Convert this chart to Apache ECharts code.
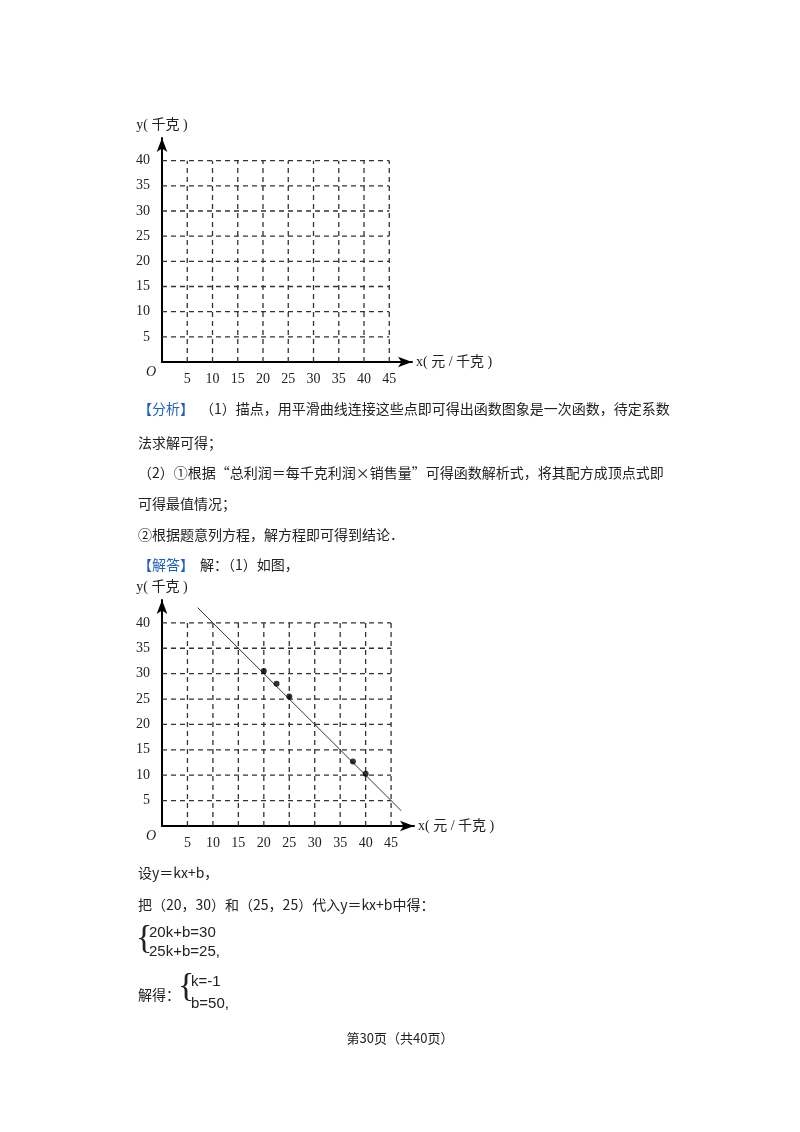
<!DOCTYPE html>
<html><head><meta charset="utf-8">
<script src="https://cdn.jsdelivr.net/npm/echarts@6/dist/echarts.min.js"></script>
<style>html,body{margin:0;background:#fff}#c{width:800px;height:1132px}</style></head>
<body><div id="c"></div>
<script>
const xTicks=[5,10,15,20,25,30,35,40,45];
const yTicks=[5,10,15,20,25,30,35,40];
const points=[[20,30.5],[22.5,28],[25,25.5],[37.5,12.7],[40,10.3]];
const fitLine=[[7,43],[47,3]];
const ff='"Liberation Serif","Noto Sans CJK SC",serif';
const chart=echarts.init(document.getElementById('c'));
function axes(i){
  return {
    x:{type:'value',gridIndex:i,min:0,max:49.5,interval:5,
      axisLine:{lineStyle:{color:'#000',width:2},symbol:['none','arrow'],symbolSize:[8,14]},
      axisTick:{show:false},splitLine:{show:false},
      axisLabel:{color:'#222',fontFamily:ff,fontSize:14,margin:10,formatter:v=>(v>0&&v<=45)?v:''},
      name:'x( 元 / 千克 )',nameGap:4,nameTextStyle:{color:'#222',fontFamily:ff,fontSize:14,padding:[22,0,0,0]}},
    y:{type:'value',gridIndex:i,min:0,max:44.5,interval:5,
      axisLine:{lineStyle:{color:'#000',width:2},symbol:['none','arrow'],symbolSize:[8,14]},
      axisTick:{show:false},splitLine:{show:false},
      axisLabel:{color:'#222',fontFamily:ff,fontSize:14,margin:12,formatter:v=>(v>0&&v<=40)?v:''},
      name:'y( 千克 )',nameGap:6,nameTextStyle:{color:'#222',fontFamily:ff,fontSize:14,align:'center',padding:[0,0,0,0]}}
  };
}
const a0=axes(0),a1=axes(1);
function gridSeries(i){
  const segs=[];
  xTicks.forEach(x=>segs.push([x,0,x,40]));
  yTicks.forEach(y=>segs.push([0,y,45,y]));
  return {type:'custom',xAxisIndex:i,yAxisIndex:i,data:segs,silent:true,z:1,
    renderItem:(p,api)=>{const s=api.coord([api.value(0),api.value(1)]),e=api.coord([api.value(2),api.value(3)]);
      return {type:'line',shape:{x1:s[0],y1:s[1],x2:e[0],y2:e[1]},style:{stroke:'#333',lineWidth:1.3,lineDash:[5,4]}};}};
}
const T=(x,y,t,o)=>Object.assign({type:'text',left:x,top:y,style:Object.assign({text:t,fontSize:14,fontFamily:'"Noto Sans CJK SC",sans-serif',fill:'#222'},o||{})});
chart.setOption({
  animation:false,
  grid:[{left:162,top:138,width:250,height:224},{left:162,top:600,width:252,height:226}],
  xAxis:[a0.x,a1.x],yAxis:[a0.y,a1.y],
  series:[gridSeries(0),gridSeries(1),
    {type:'line',xAxisIndex:1,yAxisIndex:1,data:fitLine,symbol:'none',lineStyle:{color:'#333',width:1},z:3},
    {type:'scatter',xAxisIndex:1,yAxisIndex:1,data:points,symbolSize:6,itemStyle:{color:'#000'},z:4}],
  graphic:[
    T(146,365,'O',{fontStyle:'italic',fontFamily:ff}),
    T(146,829,'O',{fontStyle:'italic',fontFamily:ff}),
    T(138,402,'【分析】',{fill:'#1f5fbf'}),
    T(200,402,'（1）描点，用平滑曲线连接这些点即可得出函数图象是一次函数，待定系数'),
    T(138,436,'法求解可得；'),
    T(138,466,'（2）①根据“总利润＝每千克利润×销售量”可得函数解析式，将其配方成顶点式即'),
    T(138,497,'可得最值情况；'),
    T(138,528,'②根据题意列方程，解方程即可得到结论．'),
    T(138,558,'【解答】',{fill:'#1f5fbf'}),
    T(200,558,'解：（1）如图，'),
    T(138,866,'设y＝kx+b，'),
    T(138,898,'把（20，30）和（25，25）代入y＝kx+b中得：'),
    T(136,922,'{',{fontSize:34,fontFamily:'"Liberation Serif",serif'}),
    T(149,925,'20k+b=30',{fontFamily:'"Liberation Sans",sans-serif',fontSize:15}),
    T(149,944,'25k+b=25,',{fontFamily:'"Liberation Sans",sans-serif',fontSize:15}),
    T(138,988,'解得：'),
    T(178,970,'{',{fontSize:34,fontFamily:'"Liberation Serif",serif'}),
    T(191,974,'k=-1',{fontFamily:'"Liberation Sans",sans-serif',fontSize:15}),
    T(191,996,'b=50,',{fontFamily:'"Liberation Sans",sans-serif',fontSize:15}),
    {type:'text',left:'center',top:1032,style:{text:'第30页（共40页）',fontSize:13,fontFamily:'"Noto Sans CJK SC",sans-serif',fill:'#222'}}
  ]
});
</script></body></html>
